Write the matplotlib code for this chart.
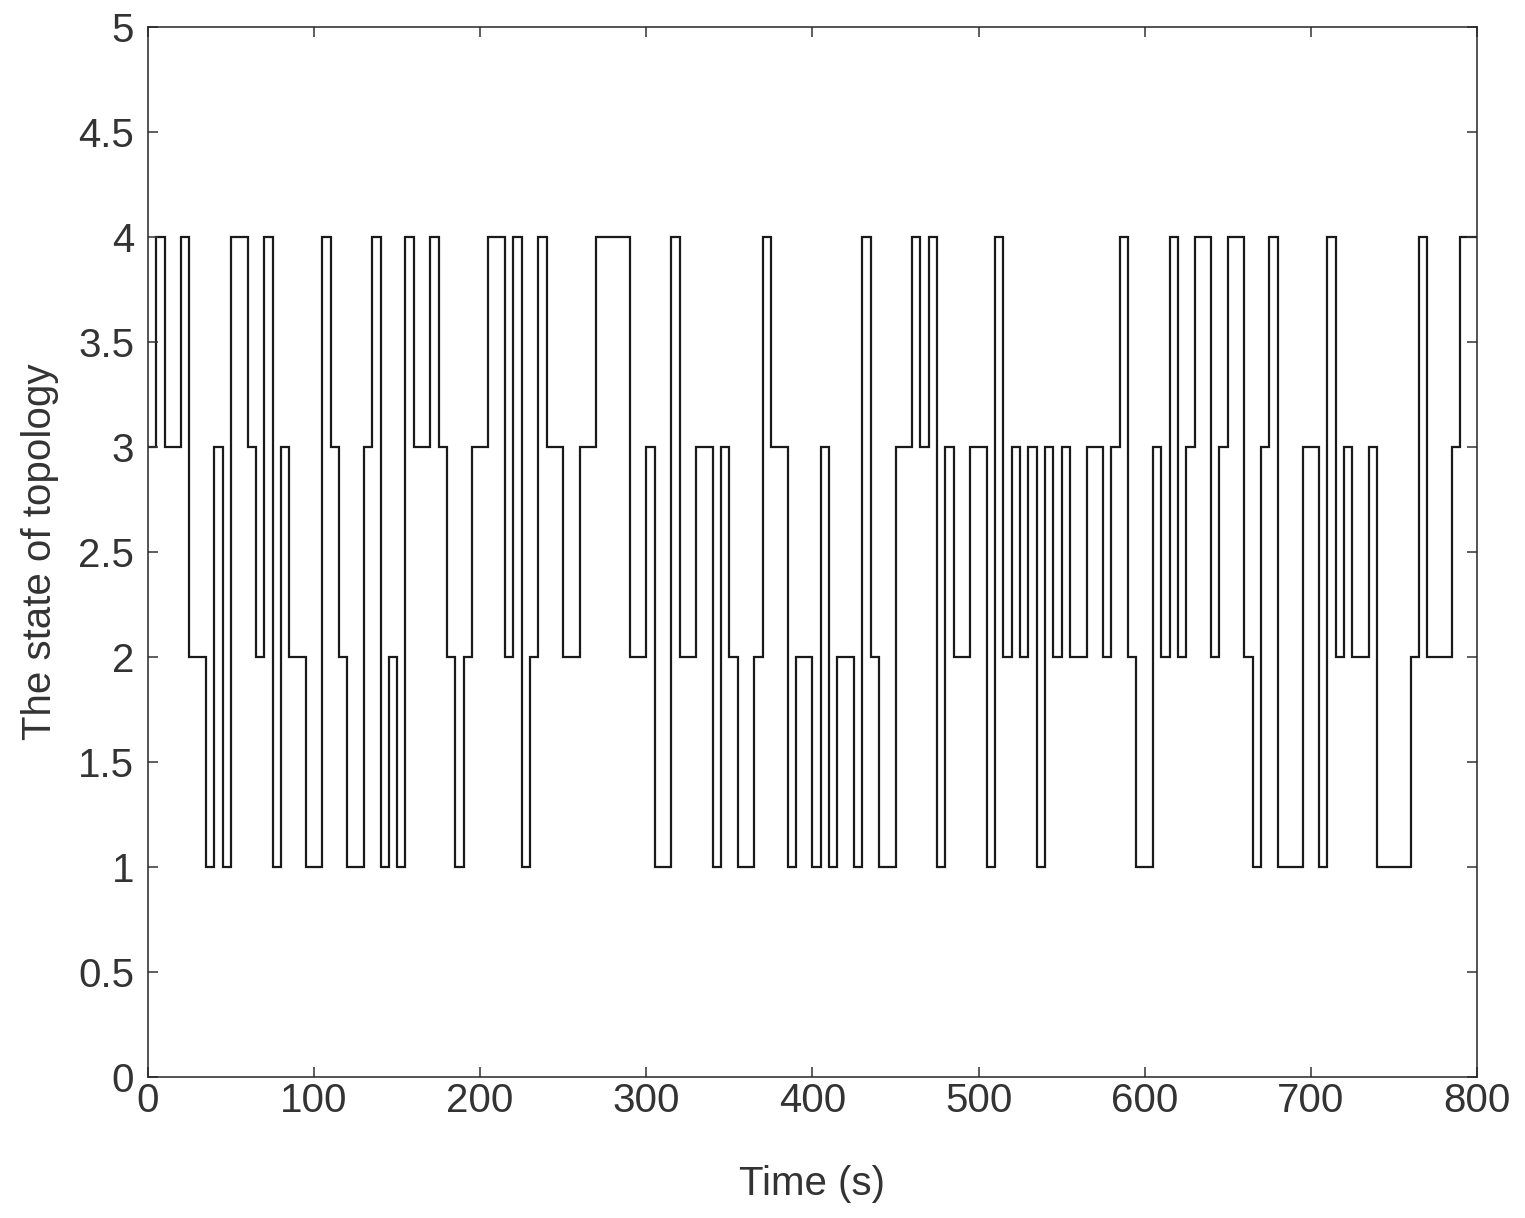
import numpy as np
import matplotlib
matplotlib.use('Agg')
import matplotlib.pyplot as plt

# topology state, one value per 5 s interval (0-800 s)
step_s = 5
state = [3, 4, 3, 3, 4, 2, 2, 1, 3, 1,
         4, 4, 3, 2, 4, 1, 3, 2, 2, 1,
         1, 4, 3, 2, 1, 1, 3, 4, 1, 2,
         1, 4, 3, 3, 4, 3, 2, 1, 2, 3,
         3, 4, 4, 2, 4, 1, 2, 4, 3, 3,
         2, 2, 3, 3, 4, 4, 4, 4, 2, 2,
         3, 1, 1, 4, 2, 2, 3, 3, 1, 3,
         2, 1, 1, 2, 4, 3, 3, 1, 2, 2,
         1, 3, 1, 2, 2, 1, 4, 2, 1, 1,
         3, 3, 4, 3, 4, 1, 3, 2, 2, 3,
         3, 1, 4, 2, 3, 2, 3, 1, 3, 2,
         3, 2, 2, 3, 3, 2, 3, 4, 2, 1,
         1, 3, 2, 4, 2, 3, 4, 4, 2, 3,
         4, 4, 2, 1, 3, 4, 1, 1, 1, 3,
         3, 1, 4, 2, 3, 2, 2, 3, 1, 1,
         1, 1, 2, 4, 2, 2, 2, 3, 4, 4]
x_ticks = [0, 100, 200, 300, 400, 500, 600, 700, 800]
y_ticks = [0, 0.5, 1, 1.5, 2, 2.5, 3, 3.5, 4, 4.5, 5]
y_labels = ['0', '0.5', '1', '1.5', '2', '2.5', '3', '3.5', '4', '4.5', '5']

plt.rcParams['font.family'] = ['Liberation Sans', 'DejaVu Sans']
txt_col = '#333333'

edges = np.arange(len(state) + 1) * step_s

fig = plt.figure(figsize=(15.25, 12.18), dpi=100)
ax = fig.add_axes([0.097, 0.116, 0.8715, 0.862])
ax.stairs(state, edges, baseline=None, color='#1a1a1a', linewidth=1.6)

ax.set_xlim(0, 800)
ax.set_ylim(0, 5)
ax.set_xticks(x_ticks)
ax.set_yticks(y_ticks)
ax.set_yticklabels(y_labels)
ax.tick_params(direction='in', length=7, width=1.1, top=True, right=True,
               labelsize=29, colors=txt_col)
ax.tick_params(axis='x', pad=4)
ax.tick_params(axis='y', pad=10)
for s in ax.spines.values():
    s.set_linewidth(1.1)
    s.set_color('#262626')

ax.set_xlabel('Time (s)', fontsize=29, color=txt_col, labelpad=32)
ax.set_ylabel('The state of topology', fontsize=29, color=txt_col, labelpad=14)

fig.savefig('out.png', dpi=100)
